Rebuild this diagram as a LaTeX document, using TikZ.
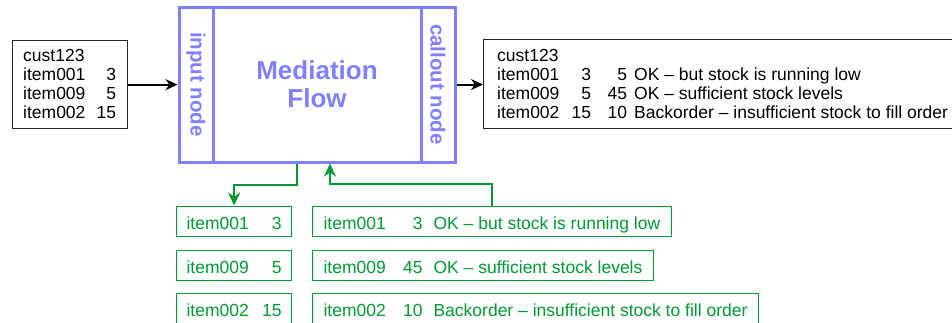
\documentclass[tikz,border=0pt]{standalone}
\usepackage{fontspec}
\setmainfont{Liberation Sans}
\usetikzlibrary{arrows.meta,calc}
\definecolor{flowblue}{RGB}{128,128,255}
\definecolor{ggreen}{RGB}{0,153,51}
\begin{document}
\begin{tikzpicture}[x=1pt,y=-1pt,
  blackbox/.style={draw=black!85, line width=1.3pt, inner sep=0pt, anchor=north west},
  btext/.style={anchor=base west, inner sep=0pt, font=\fontsize{17.5}{19}\selectfont},
  bluebox/.style={draw=flowblue, line width=3pt, inner sep=0pt},
  bluetext/.style={text=flowblue, font=\bfseries\fontsize{20.5}{22}\selectfont},
  gbox/.style={draw=ggreen, line width=1.2pt, anchor=north west, minimum height=30pt,
    inner xsep=10pt, inner ysep=0pt, text height=18pt, text depth=2pt,
    text=ggreen, font=\fontsize{17.5}{19}\selectfont},
  barrow/.style={line width=2pt, -{Stealth[length=12pt,width=11pt]}},
  garrow/.style={draw=ggreen, line width=2pt, -{Stealth[length=13pt,width=12pt]}},
]
\useasboundingbox (0,0) rectangle (952,322);

% input message box
\node[blackbox, minimum width=115pt, minimum height=88pt] (inbox) at (12,40) {};
\node[btext] (in1) at (23,61) {cust123};
\node[btext] (in2) at (23,80) {\hbox to 93pt{item001\hfill 3}};
\node[btext] (in3) at (23,99) {\hbox to 93pt{item009\hfill 5}};
\node[btext] (in4) at (23,118) {\hbox to 93pt{item002\hfill 15}};

% mediation flow
\node[bluebox, minimum width=276pt, minimum height=155pt] (flow) at (317,84.5) {};
\node[text=flowblue, font=\bfseries\fontsize{26}{28}\selectfont, align=center] (medtext) at (317,84) {Mediation\\Flow};
\node[bluebox, minimum width=34pt, minimum height=155pt] (inp) at (196,84.5) {};
\node[bluetext, rotate=-90] (inplabel) at (inp.center) {input node};
\node[bluebox, minimum width=34pt, minimum height=155pt] (call) at (438,84.5) {};
\node[bluetext, rotate=-90] (calllabel) at (call.center) {callout node};

% output message box
\node[blackbox, minimum width=500pt, minimum height=89pt] (outbox) at (483,39) {};
\node[btext] (out1) at (497,61) {cust123};
\node[btext] (out2) at (497,80) {\hbox to 94pt{item001\hfill 3}\hbox to 36pt{\hfill 5}\hspace{7pt}OK – but stock is running low};
\node[btext] (out3) at (497,99) {\hbox to 94pt{item009\hfill 5}\hbox to 36pt{\hfill 45}\hspace{7pt}OK – sufficient stock levels};
\node[btext] (out4) at (497,118) {\hbox to 94pt{item002\hfill 15}\hbox to 36pt{\hfill 10}\hspace{7pt}Backorder – insufficient stock to fill order};

% black arrows
\draw[barrow] (inbox.east) -- (inbox.east -| inp.west);
\draw[barrow] (call.east) -- (call.east -| outbox.west);

% green request boxes
\node[gbox, minimum width=115pt] (g1) at (176,205.5) {\hbox to 95pt{item001\hfill 3}};
\node[gbox, minimum width=115pt] (g2) at (176,249.5) {\hbox to 95pt{item009\hfill 5}};
\node[gbox, minimum width=115pt] (g3) at (176,293) {\hbox to 95pt{item002\hfill 15}};

% green response boxes
\node[gbox, inner xsep=11pt] (h1) at (312,205.5) {\hbox to 99pt{item001\hfill 3}\hspace{11pt}OK – but stock is running low};
\node[gbox, inner xsep=11pt] (h2) at (312,249.5) {\hbox to 99pt{item009\hfill 45}\hspace{11pt}OK – sufficient stock levels};
\node[gbox, inner xsep=11pt] (h3) at (312,293) {\hbox to 99pt{item002\hfill 10}\hspace{11pt}Backorder – insufficient stock to fill order};

% green connectors
\draw[garrow] ([xshift=-20pt]flow.south) -- ++(0,21) -| (g1.north);
\draw[garrow] (h1.north) -- ++(0,-22) -| ([xshift=13pt]flow.south);
\end{tikzpicture}
\end{document}
